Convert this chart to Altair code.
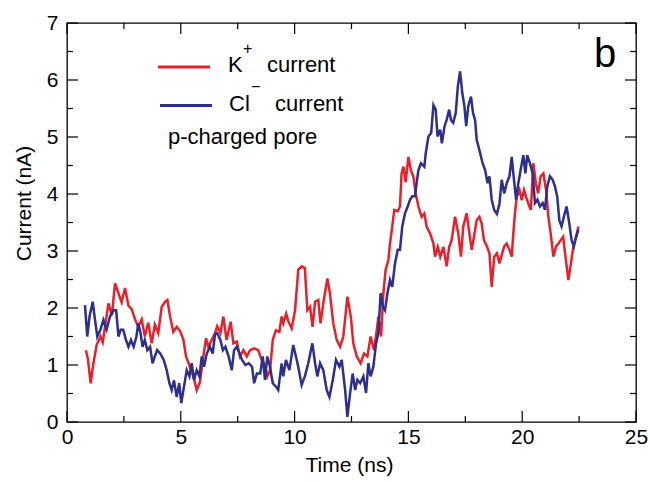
import altair as alt
import pandas as pd

# ---------------- data ----------------
k_time = [0.83, 0.92, 1.04, 1.15, 1.3, 1.47, 1.57, 1.67, 1.82, 1.97, 2.11, 2.26, 2.4, 2.55, 2.7, 2.84,
          2.99, 3.13, 3.28, 3.42, 3.57, 3.72, 3.86, 4.01, 4.16, 4.31, 4.41, 4.53, 4.67, 4.82, 4.96, 5.11,
          5.23, 5.4, 5.55, 5.7, 5.84, 5.99, 6.11, 6.21, 6.36, 6.5, 6.6, 6.74, 6.87, 7.01, 7.19, 7.31,
          7.46, 7.6, 7.75, 7.9, 8.04, 8.22, 8.4, 8.55, 8.7, 8.8, 8.92, 9.04, 9.18, 9.33, 9.43, 9.5,
          9.63, 9.73, 9.87, 10.02, 10.16, 10.31, 10.45, 10.56, 10.68, 10.79, 10.9, 11.04, 11.14, 11.26,
          11.44, 11.55, 11.7, 11.85, 12.0, 12.14, 12.32, 12.47, 12.58, 12.73, 12.9, 13.05, 13.2, 13.34,
          13.49, 13.63, 13.68, 13.8, 13.9, 14.0, 14.12, 14.19, 14.29, 14.38, 14.53, 14.63, 14.7, 14.78,
          14.88, 15.0, 15.11, 15.22, 15.32, 15.44, 15.58, 15.7, 15.8, 15.95, 16.1, 16.17, 16.29, 16.4,
          16.54, 16.68, 16.79, 16.9, 17.05, 17.19, 17.31, 17.41, 17.56, 17.68, 17.78, 17.88, 18.0, 18.12,
          18.22, 18.32, 18.45, 18.56, 18.66, 18.77, 18.89, 19.0, 19.1, 19.21, 19.32, 19.44, 19.54, 19.61,
          19.68, 19.76, 19.88, 19.98, 20.08, 20.17, 20.27, 20.38, 20.49, 20.6, 20.7, 20.81, 20.93, 21.05,
          21.15, 21.25, 21.37, 21.49, 21.59, 21.69, 21.8, 21.9, 22.03, 22.14, 22.25, 22.37, 22.47]
k_current = [1.26, 1.1, 0.68, 1.0, 1.35, 1.5, 1.4, 1.67, 2.08, 1.87, 2.43, 2.26, 2.1, 2.35, 2.04, 1.98,
             1.8, 1.67, 1.8, 1.5, 1.74, 1.38, 1.71, 1.56, 2.02, 2.11, 2.14, 1.85, 1.58, 1.67, 1.6, 1.45,
             1.15, 0.97, 0.8, 0.56, 0.7, 1.15, 1.47, 1.32, 1.44, 1.56, 1.68, 1.56, 1.85, 1.44, 1.76, 1.38,
             1.41, 1.15, 1.26, 1.15, 1.26, 1.29, 1.26, 1.09, 1.0, 0.8, 0.91, 1.44, 1.61, 1.58, 1.85, 1.73,
             1.9, 1.76, 1.64, 1.96, 2.67, 2.73, 2.7, 1.96, 2.02, 1.67, 2.11, 2.14, 1.73, 2.08,
             2.52, 2.26, 1.73, 1.44, 1.32, 1.5, 2.2, 1.85, 1.38, 1.15, 1.03, 1.2, 1.15, 1.5,
             1.26, 1.67, 1.85, 1.5, 2.26, 2.67, 2.84, 3.13, 3.43, 3.72, 3.7, 3.78, 4.36, 4.48,
             4.21, 4.65, 4.42, 4.3, 4.01, 3.78, 3.6, 3.66, 3.43, 3.31, 3.13, 2.9, 3.07, 2.9,
             3.07, 2.73, 3.07, 3.19, 3.6, 3.31, 2.9, 3.43, 3.66, 3.31, 3.02, 3.25, 3.54, 3.6,
             3.48, 3.19, 3.08, 2.96, 2.37, 2.9, 2.96, 2.78, 2.93, 3.08, 3.13, 3.02, 2.9, 3.31,
             3.66, 3.95, 4.07, 3.89, 4.07, 3.95, 3.83, 3.72, 4.54, 4.19, 4.01, 4.31, 4.36, 4.07,
             3.6, 3.31, 2.9, 3.08, 3.13, 3.19, 3.25, 2.9, 2.49, 2.78, 3.08, 3.25, 3.43]

cl_time = [0.79, 0.89, 0.99, 1.13, 1.23, 1.33, 1.47, 1.6, 1.74, 1.89, 2.04, 2.16, 2.26, 2.36, 2.47, 2.59,
           2.7, 2.81, 2.93, 3.05, 3.13, 3.23, 3.32, 3.42, 3.53, 3.65, 3.76, 3.86, 3.96, 4.1, 4.25, 4.38,
           4.5, 4.6, 4.7, 4.82, 4.93, 5.02, 5.14, 5.26, 5.38, 5.48, 5.58, 5.7, 5.82, 5.92, 6.02, 6.14,
           6.28, 6.4, 6.5, 6.6, 6.74, 6.85, 6.96, 7.1, 7.24, 7.34, 7.46, 7.58, 7.69, 7.84, 7.99, 8.13,
           8.22, 8.34, 8.49, 8.6, 8.7, 8.8, 8.92, 9.04, 9.18, 9.28, 9.43, 9.5, 9.62, 9.77, 9.94, 10.06,
           10.16, 10.31, 10.45, 10.6, 10.78, 10.9, 11.0, 11.12, 11.26, 11.41, 11.53, 11.68, 11.82, 11.97,
           12.07, 12.22, 12.32, 12.44, 12.55, 12.66, 12.76, 12.88, 13.02, 13.14, 13.24, 13.34, 13.46, 13.58,
           13.68, 13.78, 13.88, 13.97, 14.08, 14.19, 14.29, 14.41, 14.53, 14.63, 14.73, 14.85, 14.97, 15.07,
           15.17, 15.29, 15.36, 15.44, 15.55, 15.7, 15.76, 15.88, 16.0, 16.1, 16.2, 16.28, 16.4, 16.47,
           16.59, 16.68, 16.79, 16.87, 16.97, 17.08, 17.17, 17.27, 17.37, 17.46, 17.54, 17.63, 17.75, 17.84,
           17.93, 18.0, 18.12, 18.26, 18.37, 18.48, 18.56, 18.66, 18.77, 18.89, 19.0, 19.1, 19.21, 19.32,
           19.44, 19.54, 19.61, 19.73, 19.83, 19.93, 20.05, 20.14, 20.22, 20.34, 20.46, 20.56, 20.67, 20.78,
           20.9, 21.0, 21.1, 21.22, 21.34, 21.44, 21.54, 21.63, 21.73, 21.83, 21.95, 22.07, 22.17, 22.27,
           22.37, 22.47]
cl_current = [2.05, 1.5, 1.85, 2.11, 1.79, 1.5, 1.62, 1.79, 1.62, 1.85, 1.96, 1.96, 1.5, 1.62, 1.62, 1.44,
              1.32, 1.44, 1.32, 1.5, 1.73, 1.56, 1.32, 1.44, 1.26, 1.32, 1.03, 1.15, 1.26, 1.2, 1.09, 0.91,
              0.68, 0.56, 0.73, 0.44, 0.68, 0.33, 0.62, 0.91, 0.8, 1.03, 0.74, 0.91, 0.8, 1.15, 0.97, 1.2,
              1.32, 1.2, 1.53, 1.56, 1.44, 1.26, 1.32, 1.15, 0.91, 1.26, 1.32, 1.2, 1.09, 1.0, 1.03, 0.97,
              0.68, 0.85, 0.85, 1.15, 0.74, 1.15, 0.97, 0.68, 0.62, 0.56, 1.03, 0.8, 1.09, 0.91, 1.35, 1.15,
              0.97, 0.65, 0.8, 1.03, 1.38, 1.03, 0.8, 1.03, 0.91, 0.56, 0.44, 0.74, 1.09, 0.97,
              1.09, 0.56, 0.09, 0.51, 0.85, 0.56, 0.74, 0.68, 0.8, 0.51, 1.03, 0.8, 0.97, 1.38,
              1.56, 2.26, 2.02, 1.96, 2.26, 2.49, 2.37, 2.78, 3.02, 3.02, 3.43, 3.66, 3.78, 3.9,
              3.96, 3.96, 4.19, 4.42, 4.54, 4.48, 4.71, 5.01, 5.07, 5.56, 5.48, 5.01, 5.13, 4.89,
              5.19, 5.3, 5.48, 5.3, 5.25, 5.42, 5.88, 6.15, 5.77, 5.54, 5.19, 5.54, 5.71, 5.42,
              5.3, 4.95, 4.77, 4.54, 4.42, 4.19, 4.31, 3.9, 3.72, 3.65, 3.83, 4.25, 4.01, 4.19,
              4.31, 4.65, 4.36, 3.9, 4.19, 4.42, 4.68, 4.36, 4.68, 4.54, 4.36, 3.84, 3.9, 3.78,
              3.84, 3.72, 4.13, 4.31, 4.25, 4.13, 3.95, 3.54, 3.43, 3.6, 3.78, 3.48, 3.19, 3.08,
              3.25, 3.37]

x_major = [0, 5, 10, 15, 20, 25]
x_minor = [2.5, 7.5, 12.5, 17.5, 22.5]
y_major = [0, 1, 2, 3, 4, 5, 6, 7]
y_minor = [0.5, 1.5, 2.5, 3.5, 4.5, 5.5, 6.5]

x_title = "Time (ns)"
y_title = "Current (nA)"
legend_k = ["K", "+", "current"]
legend_cl = ["Cl", "\u2212", "current"]
note = "p-charged pore"
panel = "b"

# ---------------- layout / style ----------------
W, H = 569, 399
L0, T0 = 67, 23
FONT = "Liberation Sans"
RED = "#e8202a"
BLUE = "#2c2f8e"

xs = alt.Scale(domain=[0, 25], nice=False, zero=False)
ys = alt.Scale(domain=[0, 7], nice=False, zero=False)

k_df = pd.DataFrame({"t": k_time, "v": k_current})
cl_df = pd.DataFrame({"t": cl_time, "v": cl_current})

x_axis = alt.Axis(values=x_major, format="d", ticks=False, tickSize=0, domain=False, grid=False,
                  labelFont=FONT, labelFontSize=21, labelPadding=4, labelColor="black",
                  labelFlush=False, labelOverlap=False,
                  title=x_title, titleFont=FONT, titleFontSize=21, titleFontWeight="normal",
                  titleColor="black", titleX=282, titleY=43, titleAlign="center",
                  titleBaseline="middle")
y_axis = alt.Axis(values=y_major, format="d", ticks=False, tickSize=0, domain=False, grid=False,
                  labelFont=FONT, labelFontSize=21, labelPadding=9, labelColor="black",
                  labelFlush=False, labelOverlap=False,
                  title=y_title, titleFont=FONT, titleFontSize=21, titleFontWeight="normal",
                  titleColor="black", titleX=-43, titleY=180, titleAngle=-90, titleAlign="center",
                  titleBaseline="middle")


def series_line(df, color):
    return alt.Chart(df).mark_line(color=color, strokeWidth=2.5, clip=True).encode(
        x=alt.X("t:Q", scale=xs, axis=x_axis, title=x_title),
        y=alt.Y("v:Q", scale=ys, axis=y_axis, title=y_title),
    )


def xticks(vals, length, top):
    return alt.Chart(pd.DataFrame({"t": vals})).mark_rule(color="black", strokeWidth=1.2).encode(
        x=alt.X("t:Q", scale=xs, axis=x_axis, title=x_title),
        y=alt.value(0 if top else H),
        y2=alt.value(length if top else H - length),
    )


def yticks(vals, length, right):
    return alt.Chart(pd.DataFrame({"v": vals})).mark_rule(color="black", strokeWidth=1.2).encode(
        y=alt.Y("v:Q", scale=ys, axis=y_axis, title=y_title),
        x=alt.value(W if right else 0),
        x2=alt.value(W - length if right else length),
    )


def label(txt, x, y, size, color="black"):
    return alt.Chart(pd.DataFrame({"s": [txt]})).mark_text(
        font=FONT, fontSize=size, align="left", baseline="alphabetic", color=color
    ).encode(x=alt.value(x - L0), y=alt.value(y - T0), text="s:N")


def legend_line(x1, x2, y, color):
    return alt.Chart(pd.DataFrame({"s": [0]})).mark_rule(color=color, strokeWidth=3).encode(
        x=alt.value(x1 - L0), x2=alt.value(x2 - L0), y=alt.value(y - T0)
    )


layers = [
    series_line(k_df, RED), series_line(cl_df, BLUE),
    xticks(x_major, 11, False), xticks(x_minor, 6, False),
    xticks(x_major, 11, True), xticks(x_minor, 6, True),
    yticks(y_major, 11, False), yticks(y_minor, 6, False),
    yticks(y_major, 11, True), yticks(y_minor, 6, True),
    legend_line(158, 210, 67, RED),
    legend_line(160, 212, 105.5, BLUE),
    label(legend_k[0], 228, 72, 22),
    label(legend_k[1], 243, 54, 16),
    label(legend_k[2], 267, 72, 22),
    label(legend_cl[0], 229, 111, 22),
    label(legend_cl[1], 251, 92, 16),
    label(legend_cl[2], 275, 111, 22),
    label(note, 168, 144, 22),
    label(panel, 594, 67, 40),
]

chart = alt.layer(*layers).properties(
    width=W, height=H,
    padding={"left": L0, "top": T0, "right": 650 - L0 - W, "bottom": 482 - T0 - H},
    autosize=alt.AutoSizeParams(type="none"),
    background="white",
).configure_view(stroke="black", strokeWidth=1.3)

chart.save("out.html", embed_options={"renderer": "svg", "actions": False})
